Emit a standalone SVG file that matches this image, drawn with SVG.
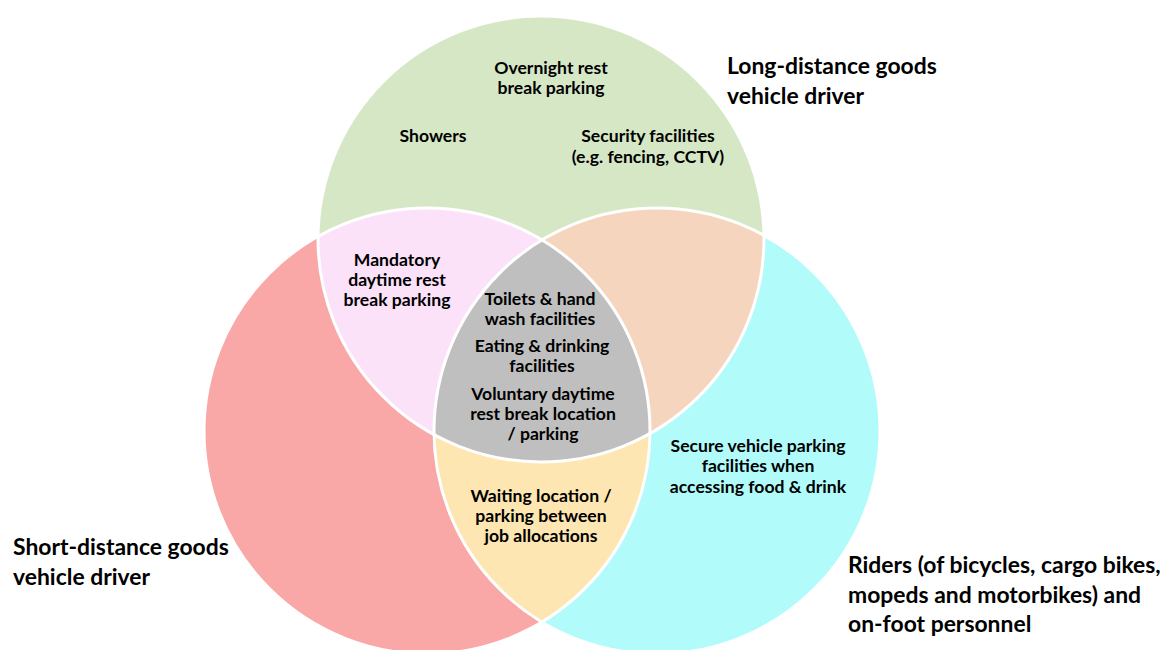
<svg xmlns="http://www.w3.org/2000/svg" width="1166" height="650" viewBox="0 0 1166 650">
<style>
text{font-family:Lato,"Open Sans","Liberation Sans",sans-serif;font-weight:bold;fill:#000}
.in{font-size:17.6px;text-anchor:middle}
.lb{font-size:22.9px}
.edge{fill:none;stroke:#fff;stroke-width:3}
</style>
<defs>
<clipPath id="cA"><circle cx="541" cy="239" r="223"/></clipPath>
<clipPath id="cB"><circle cx="427" cy="431" r="223"/></clipPath>
<clipPath id="cC"><circle cx="657" cy="431" r="223"/></clipPath>
</defs>
<rect width="1166" height="650" fill="#fff"/>
<g id="long-distance">
<circle cx="541" cy="239" r="223" fill="#d6e7c6"/>
</g>
<g id="short-distance">
<circle cx="427" cy="431" r="223" fill="#f9a7a7"/>
</g>
<g id="riders">
<circle cx="657" cy="431" r="223" fill="#b1fbfb"/>
</g>
<g id="long-short">
<circle cx="427" cy="431" r="223" fill="#fbe2f9" clip-path="url(#cA)"/>
</g>
<g id="long-riders">
<circle cx="657" cy="431" r="223" fill="#f6d5be" clip-path="url(#cA)"/>
</g>
<g id="short-riders">
<circle cx="657" cy="431" r="223" fill="#fde6b1" clip-path="url(#cB)"/>
</g>
<g id="all-three">
<g clip-path="url(#cA)"><circle cx="657" cy="431" r="223" fill="#bfbfbf" clip-path="url(#cB)"/></g>
</g>
<g id="outlines">
<circle class="edge" cx="541" cy="239" r="223"/>
<circle class="edge" cx="427" cy="431" r="223"/>
<circle class="edge" cx="657" cy="431" r="223"/>
</g>
<g id="labels">
<text class="in" x="551" y="74">Overnight rest</text>
<text class="in" x="551" y="94">break parking</text>
<text class="in" x="433" y="142">Showers</text>
<text class="in" x="648" y="142">Security facilities</text>
<text class="in" x="648" y="163">(e.g. fencing, CCTV)</text>
<text class="in" x="397" y="266">Mandatory</text>
<text class="in" x="397" y="286">daytime rest</text>
<text class="in" x="397" y="306">break parking</text>
<text class="in" x="540" y="305">Toilets &amp; hand</text>
<text class="in" x="540" y="325">wash facilities</text>
<text class="in" x="542" y="352">Eating &amp; drinking</text>
<text class="in" x="542" y="372">facilities</text>
<text class="in" x="543" y="400">Voluntary daytime</text>
<text class="in" x="543" y="420">rest break location</text>
<text class="in" x="543" y="440">/ parking</text>
<text class="in" x="541" y="502">Waiting location /</text>
<text class="in" x="541" y="522">parking between</text>
<text class="in" x="541" y="542">job allocations</text>
<text class="in" x="758" y="452">Secure vehicle parking</text>
<text class="in" x="758" y="472">facilities when</text>
<text class="in" x="758" y="493">accessing food &amp; drink</text>
<text class="lb" x="727" y="74">Long-distance goods</text>
<text class="lb" x="727" y="104">vehicle driver</text>
<text class="lb" x="13" y="555">Short-distance goods</text>
<text class="lb" x="13" y="585">vehicle driver</text>
<text class="lb" x="848" y="573">Riders (of bicycles, cargo bikes,</text>
<text class="lb" x="848" y="603">mopeds and motorbikes) and</text>
<text class="lb" x="848" y="632">on-foot personnel</text>
</g>
</svg>
